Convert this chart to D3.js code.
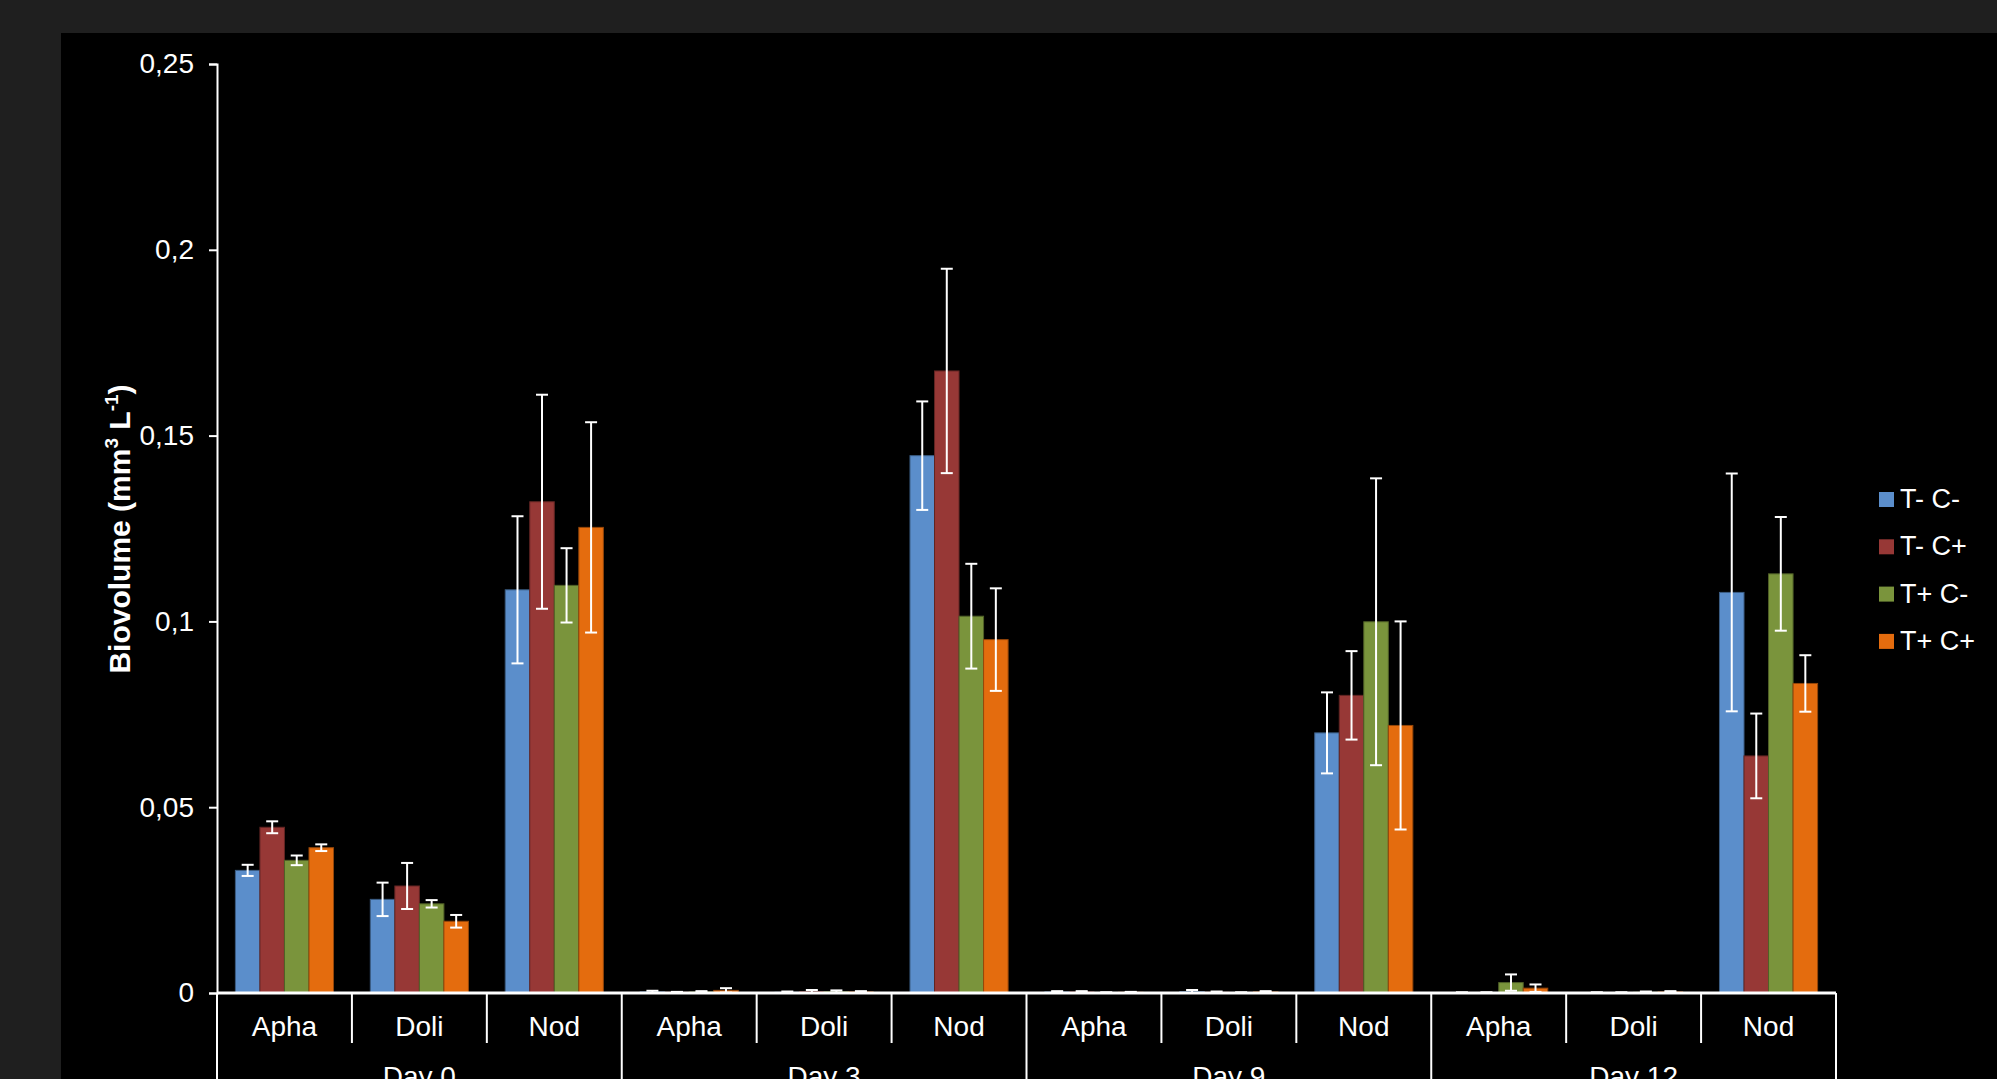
<!DOCTYPE html>
<html>

<head>
    <title>Biovolume</title>
    <script src="https://d3js.org/d3.v7.min.js"></script>
    <style>
        body { margin: 0; background: #1f1f1f; }
        text { font-family: "Liberation Sans", Arial, sans-serif; fill: #fff; }
    </style>
</head>

<body>

    <svg width="1997" height="1079" id="mainSvg" class="svgs"></svg>
    <script>

        // data
        const days = ["Day 0", "Day 3", "Day 9", "Day 12"];
        const genera = ["Apha", "Doli", "Nod"];
        const series = ["T- C-", "T- C+", "T+ C-", "T+ C+"];
        const colors = ["#5b8ecb", "#973836", "#7a943c", "#e46c0e"];
        const yTicks = [0, 0.05, 0.1, 0.15, 0.2, 0.25];
        const yTickLabels = ["0", "0,05", "0,1", "0,15", "0,2", "0,25"];

        // one value per slot: Day0 Apha, Doli, Nod, Day3 Apha, ...
        const meanTmCm = [0.0330, 0.0252, 0.1085, 0.0003, 0.0002, 0.1446, 0.0003, 0.0004, 0.0700, 0.0001, 0.0001, 0.1078];
        const meanTmCp = [0.0446, 0.0288, 0.1322, 0.0002, 0.0004, 0.1674, 0.0003, 0.0002, 0.0801, 0.0001, 0.0001, 0.0638];
        const meanTpCm = [0.0357, 0.0240, 0.1097, 0.0003, 0.0004, 0.1014, 0.0001, 0.0001, 0.0999, 0.0028, 0.0002, 0.1128];
        const meanTpCp = [0.0391, 0.0193, 0.1253, 0.0007, 0.0003, 0.0951, 0.0002, 0.0003, 0.0720, 0.0013, 0.0003, 0.0833];

        const errTmCm = [0.0015, 0.0045, 0.0198, 0.0003, 0.0002, 0.0146, 0.0002, 0.0004, 0.0109, 0.0001, 0.0001, 0.0320];
        const errTmCp = [0.0016, 0.0062, 0.0288, 0.0001, 0.0004, 0.0275, 0.0002, 0.0002, 0.0119, 0.0001, 0.0001, 0.0114];
        const errTpCm = [0.0013, 0.0010, 0.0100, 0.0002, 0.0003, 0.0141, 0.0001, 0.0001, 0.0386, 0.0022, 0.0002, 0.0153];
        const errTpCp = [0.0009, 0.0017, 0.0283, 0.0006, 0.0002, 0.0138, 0.0001, 0.0002, 0.0280, 0.0010, 0.0002, 0.0076];

        const means = [meanTmCm, meanTmCp, meanTpCm, meanTpCp];
        const errs = [errTmCm, errTmCp, errTpCm, errTpCp];

        const mainSvg = d3.select('.svgs');
        const mainWidth = +mainSvg.attr("width");
        const mainHeight = +mainSvg.attr("height");

        // black plot panel
        mainSvg.append("rect")
            .attr("x", 61).attr("y", 33)
            .attr("width", mainWidth - 61).attr("height", mainHeight - 33)
            .attr("fill", "#000");

        const plotLeft = 217, plotRight = 1836, plotTop = 64, plotBottom = 993;

        const slots = [];
        days.forEach(d => genera.forEach(g => slots.push(d + "|" + g)));

        const x0 = d3.scaleBand()
            .domain(slots)
            .range([plotLeft, plotRight])
            .paddingInner(1.5 / 5.5)
            .paddingOuter(0.75 / 5.5);

        const x1 = d3.scaleBand()
            .domain(series)
            .range([0, x0.bandwidth()]);

        const y = d3.scaleLinear()
            .domain([0, 0.25])
            .range([plotBottom, plotTop]);

        const g = mainSvg.append("g").attr("id", "mainGroup");

        // bars
        const rows = [];
        series.forEach((s, si) => {
            slots.forEach((slot, i) => {
                rows.push({ slot: slot, s: s, si: si, v: means[si][i], e: errs[si][i] });
            });
        });

        g.selectAll("rect.bar").data(rows).join("rect")
            .attr("class", "bar")
            .attr("x", d => x0(d.slot) + x1(d.s))
            .attr("y", d => y(d.v))
            .attr("width", x1.bandwidth())
            .attr("height", d => y(0) - y(d.v))
            .attr("fill", d => colors[d.si])
            .attr("stroke", d => d3.color(colors[d.si]).darker(1.2))
            .attr("stroke-width", 1);

        // error bars
        const cap = 6;
        const cx = d => x0(d.slot) + x1(d.s) + x1.bandwidth() / 2;
        const eb = g.selectAll("g.err").data(rows).join("g")
            .attr("class", "err")
            .attr("stroke", "#fff")
            .attr("stroke-width", 2);
        eb.append("line")
            .attr("x1", cx).attr("x2", cx)
            .attr("y1", d => y(d.v + d.e))
            .attr("y2", d => y(Math.max(0, d.v - d.e)));
        eb.append("line")
            .attr("x1", d => cx(d) - cap).attr("x2", d => cx(d) + cap)
            .attr("y1", d => y(d.v + d.e))
            .attr("y2", d => y(d.v + d.e));
        eb.append("line")
            .attr("x1", d => cx(d) - cap).attr("x2", d => cx(d) + cap)
            .attr("y1", d => y(Math.max(0, d.v - d.e)))
            .attr("y2", d => y(Math.max(0, d.v - d.e)));

        // y axis
        const yAxis = g.append("g")
            .attr("transform", `translate(${plotLeft},0)`)
            .call(d3.axisLeft(y).tickValues(yTicks).tickSize(8).tickPadding(15)
                .tickFormat((d, i) => yTickLabels[i]));
        yAxis.select(".domain").attr("stroke", "#fff").attr("stroke-width", 2);
        yAxis.selectAll(".tick line").attr("stroke", "#fff").attr("stroke-width", 2);
        yAxis.selectAll(".tick text")
            .attr("fill", "#fff")
            .style("font-size", "28px")
            .style("font-family", "'Liberation Sans', Arial, sans-serif");

        // x axis: baseline, separators, labels
        const step = x0.step();
        g.append("line")
            .attr("x1", plotLeft).attr("x2", plotRight)
            .attr("y1", plotBottom).attr("y2", plotBottom)
            .attr("stroke", "#fff").attr("stroke-width", 3);

        d3.range(slots.length + 1).forEach(k => {
            const isDay = k % genera.length === 0;
            g.append("line")
                .attr("x1", plotLeft + k * step).attr("x2", plotLeft + k * step)
                .attr("y1", plotBottom).attr("y2", isDay ? mainHeight : 1043)
                .attr("stroke", "#fff").attr("stroke-width", 2);
        });

        g.selectAll("text.gen").data(slots).join("text")
            .attr("class", "gen")
            .attr("x", d => x0(d) + x0.bandwidth() / 2)
            .attr("y", 1036)
            .attr("text-anchor", "middle")
            .style("font-size", "28px")
            .text(d => d.split("|")[1]);

        // day labels sit at the lower edge, partly cut as in the source
        g.selectAll("text.day").data(days).join("text")
            .attr("class", "day")
            .attr("x", (d, i) => plotLeft + (i * 3 + 1.5) * step)
            .attr("y", 1086)
            .attr("text-anchor", "middle")
            .style("font-size", "28px")
            .text(d => d);

        // y axis title
        const title = g.append("text")
            .attr("transform", "translate(130,529) rotate(-90)")
            .attr("text-anchor", "middle")
            .style("font-size", "30px")
            .style("font-weight", "bold");
        title.append("tspan").text("Biovolume (mm");
        title.append("tspan").attr("dy", -12).style("font-size", "19px").text("3");
        title.append("tspan").attr("dy", 12).text(" L");
        title.append("tspan").attr("dy", -12).style("font-size", "19px").text("-1");
        title.append("tspan").attr("dy", 12).text(")");

        // legend
        const legend = g.selectAll("g.leg").data(series).join("g")
            .attr("class", "leg")
            .attr("transform", (d, i) => `translate(1879,${492 + i * 47.3})`);
        legend.append("rect")
            .attr("width", 15).attr("height", 15)
            .attr("fill", (d, i) => colors[i]);
        legend.append("text")
            .attr("x", 21).attr("y", 16)
            .style("font-size", "27px")
            .text(d => d);

    </script>
</body>

</html>
